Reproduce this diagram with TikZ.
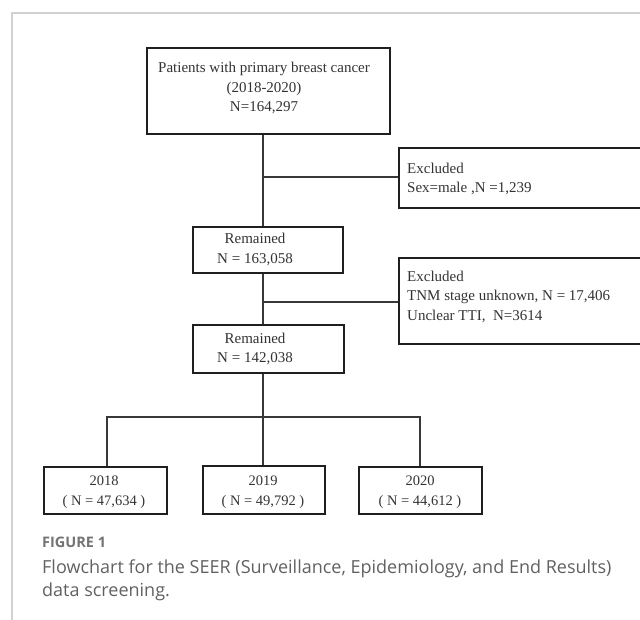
\documentclass[tikz,border=0pt]{standalone}
\usepackage{fontspec}
\setmainfont{Liberation Serif}
\newfontfamily\capfont{Open Sans}
\begin{document}
\begin{tikzpicture}[x=1pt,y=-1pt,
  box/.style={draw=black!88, line width=2.2pt, inner sep=0pt, anchor=north west},
  conn/.style={draw=black!78, line width=1.4pt},
  frameline/.style={draw=black!18, line width=1.4pt},
  txt/.style={font=\fontsize{15}{19.5}\selectfont, inner sep=0pt, text=black!80},
  smalltxt/.style={font=\fontsize{14.5}{20}\selectfont, inner sep=0pt, text=black!80, align=center},
  captxt/.style={font=\capfont\fontsize{18}{22}\selectfont, text=black!62, inner sep=0pt, anchor=base west},
  caphead/.style={font=\capfont\bfseries\fontsize{14.5}{16}\selectfont, text=black!55, inner sep=0pt, anchor=base west}]
\useasboundingbox (0,0) rectangle (640,620);
\clip (0,0) rectangle (640,620);
% page frame
\coordinate (fc) at (12,13);
\coordinate (fr) at (640,13);
\coordinate (fb) at (12,620);
\draw[frameline] (fr) -- (fc) -- (fb);
% boxes
\node[box, minimum width=243pt, minimum height=86pt] (top) at (146,47) {};
\node[box, minimum width=260pt, minimum height=60pt] (ex1) at (398,147) {};
\node[box, minimum width=150pt, minimum height=46pt] (rem1) at (192,226) {};
\node[box, minimum width=260pt, minimum height=86pt] (ex2) at (398,257) {};
\node[box, minimum width=151pt, minimum height=48pt] (rem2) at (192,324) {};
\node[box, minimum width=123pt, minimum height=47pt] (b1) at (43,466) {};
\node[box, minimum width=122pt, minimum height=48pt] (b2) at (202,465) {};
\node[box, minimum width=123pt, minimum height=47pt] (b3) at (358,466) {};
% texts
\node[txt, align=center] (ttop) at (264,88) {Patients with primary breast cancer\\(2018-2020)\\N=164,297};
\node[txt, align=left, anchor=west] (tex1) at (407,179) {Excluded\\Sex=male ,N =1,239};
\node[txt, align=center] (trem1) at (255,249.5) {Remained\\N = 163,058};
\node[txt, align=left, anchor=west] (tex2) at (407,296.5) {Excluded\\TNM stage unknown, N = 17,406\\Unclear TTI,\ \ N=3614};
\node[txt, align=center] (trem2) at (255,349) {Remained\\N = 142,038};
\node[smalltxt] (tb1) at (104,492) {2018\\( N = 47,634 )};
\node[smalltxt] (tb2) at (263,492) {2019\\( N = 49,792 )};
\node[smalltxt] (tb3) at (420,492) {2020\\( N = 44,612 )};
% connectors
\coordinate (j1) at (263,177);
\coordinate (j2) at (263,302);
\coordinate (j3) at (263,417);
\coordinate (jl) at (107,417);
\coordinate (jr) at (420,417);
\draw[conn] (top.south -| j1) -- (rem1.north -| j1);
\draw[conn] (j1) -- (ex1.west |- j1);
\draw[conn] (rem1.south -| j2) -- (rem2.north -| j2);
\draw[conn] (j2) -- (ex2.west |- j2);
\draw[conn] (rem2.south -| j3) -- (b2.north -| j3);
\draw[conn] (b1.north -| jl) -- (jl) -- (jr) -- (b3.north -| jr);
% caption
\node[caphead] (fig) at (42,547) {FIGURE 1};
\node[captxt] (cap1) at (42,573) {Flowchart for the SEER (Surveillance, Epidemiology, and End Results)};
\node[captxt] (cap2) at (42,596) {data screening.};
\end{tikzpicture}
\end{document}
